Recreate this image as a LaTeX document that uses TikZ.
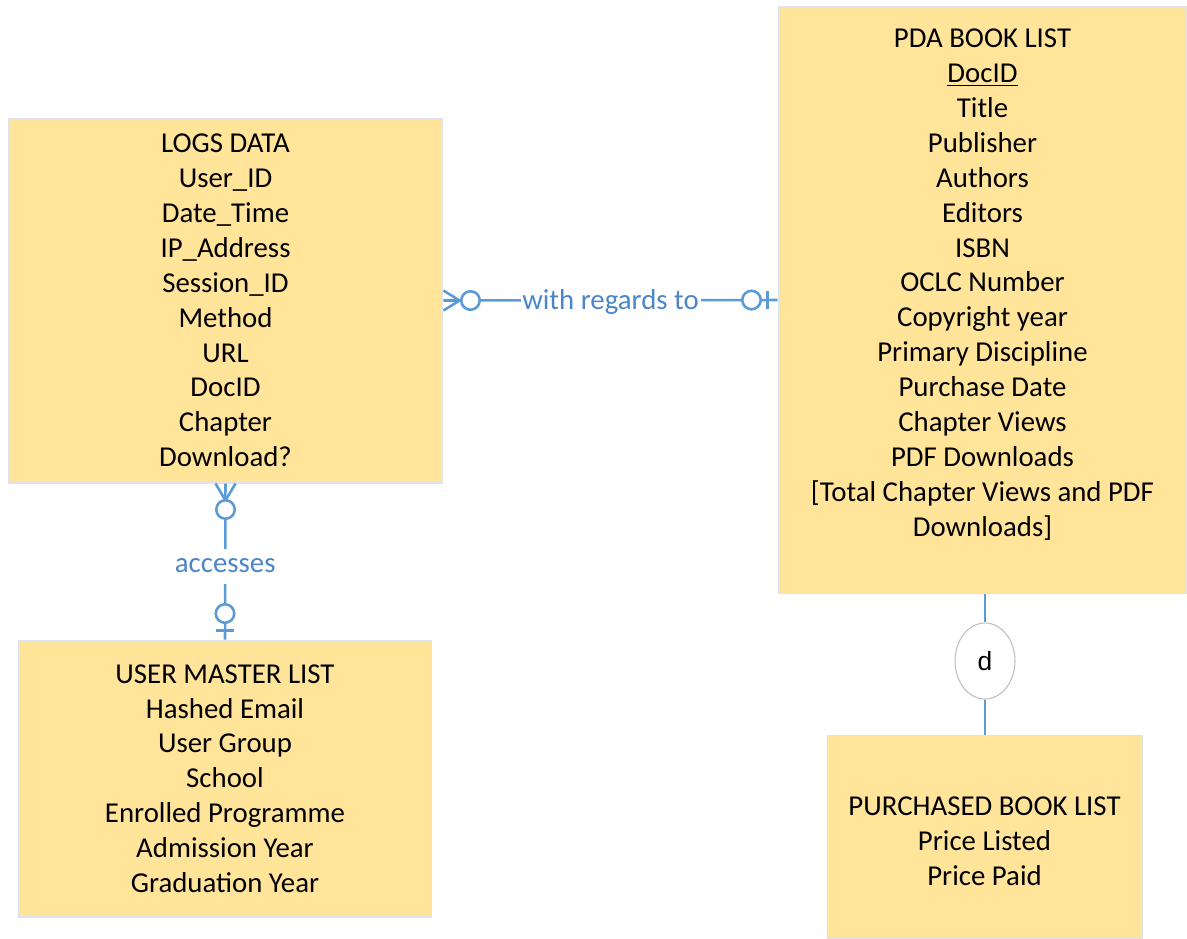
\documentclass[tikz,border=0pt]{standalone}
\usepackage{fontspec}
\setmainfont{Carlito}
\newfontfamily\discfont{Liberation Sans}
\usetikzlibrary{calc,shapes.geometric}
\definecolor{boxfill}{HTML}{FFE499}
\definecolor{boxline}{HTML}{DCE3EF}
\definecolor{relline}{HTML}{5B9BD5}
\definecolor{reltext}{HTML}{4A86C8}

\begin{document}
\begin{tikzpicture}[x=0.02cm,y=-0.02cm,
            font=\fontsize{16.4}{19.85}\selectfont,
            entity/.style={draw=boxline,line width=0.6pt,fill=boxfill,align=center,inner sep=0pt},
            rel/.style={draw=relline,line width=1.45pt},
            lbl/.style={fill=white,text=reltext,inner xsep=1pt,inner ysep=0pt,minimum height=0.7cm},
            circ/.style={circle,draw=relline,line width=1.45pt,fill=white,inner sep=0pt,minimum size=0.37cm},
            disc/.style={ellipse,draw=black!25,line width=0.6pt,fill=white,inner sep=0pt,
                minimum width=1.2cm,minimum height=1.52cm,font=\discfont\fontsize{15}{18}\selectfont}
        ]
            \useasboundingbox (0,0) rectangle (1187,938);
            % entities
            \node[entity,minimum width=8.7cm,minimum height=7.3cm] (logs) at (225.5,300.5)
            {LOGS DATA\\User\_ID\\Date\_Time\\IP\_Address\\Session\_ID\\Method\\URL\\DocID\\Chapter\\Download?};
            \node[entity,minimum width=8.28cm,minimum height=5.54cm] (users) at (225,778.5)
            {USER MASTER LIST\\Hashed Email\\User Group\\School\\Enrolled Programme\\Admission Year\\Graduation Year};
            \node[entity,minimum width=8.18cm,minimum height=11.76cm] (pda) at (982.5,300)
            {PDA BOOK LIST\\\underline{DocID}\\Title\\Publisher\\Authors\\Editors\\ISBN\\OCLC Number\\Copyright year\\
             Primary Discipline\\Purchase Date\\Chapter Views\\PDF Downloads\\{[}Total Chapter Views and PDF\\Downloads{]}\\\mbox{}};
            \node[entity,minimum width=6.3cm,minimum height=4.06cm] (bought) at (984.5,836.5)
            {\mbox{}\\[-3.6pt]PURCHASED BOOK LIST\\Price Listed\\Price Paid};
            \node[disc] (dsc) at (985,661) {d};

            % relationships
            \draw[rel] (logs.east) -- node[lbl,yshift=-1.2pt] (regards) {with regards to} (pda.west);
            \draw[rel] ($(logs.east)+(0,-10)$) -- ($(logs.east)+(16,0)$) -- ($(logs.east)+(0,10)$);
            \node[circ] (regards-o1) at ($(logs.east)+(27,0)$) {};
            \node[circ] (regards-o2) at ($(pda.west)+(-26,0)$) {};
            \draw[rel] ($(pda.west)+(-10,-9)$) -- ($(pda.west)+(-10,9)$);

            \draw[rel] (logs.south) -- node[lbl,yshift=-2.6pt] (accesses) {accesses} (users.north);
            \draw[rel] ($(logs.south)+(-10,0)$) -- ($(logs.south)+(0,17)$) -- ($(logs.south)+(10,0)$);
            \node[circ] (accesses-o1) at ($(logs.south)+(0,26)$) {};
            \node[circ] (accesses-o2) at ($(users.north)+(0,-26)$) {};
            \draw[rel] ($(users.north)+(-9,-9)$) -- ($(users.north)+(9,-9)$);

            \draw[rel] (pda.south -| dsc) -- (dsc);
            \draw[rel] (dsc) -- (dsc |- bought.north);
        \end{tikzpicture}
\end{document}
